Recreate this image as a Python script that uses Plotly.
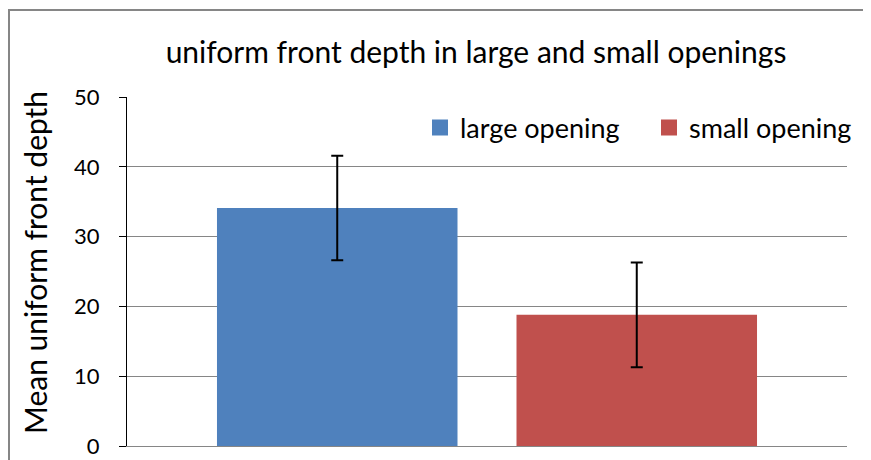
import plotly.graph_objects as go

series = ["large opening", "small opening"]
means = [34.1, 18.8]
errors = [7.5, 7.5]
colors = ["#4F81BD", "#C0504D"]
category = ["uniform front depth"]
y_ticks = [0, 10, 20, 30, 40, 50]

font = "Lato"
W, H = 871, 460
L, R, T, B = 119, 32, 89, 22
pw, ph = W - L - R, H - T - B

fig = go.Figure()
for name, m, e, c in zip(series, means, errors, colors):
    fig.add_trace(go.Bar(
        x=category, y=[m], name=name, marker_color=c, marker_line_width=0,
        showlegend=False,
        error_y=dict(type="data", array=[e], visible=True, color="black",
                     thickness=2, width=6),
    ))
# legend entries with bigger square swatches
for name, c in zip(series, colors):
    fig.add_trace(go.Scatter(
        x=category, y=[None], name=name, mode="markers",
        marker=dict(symbol="square", size=16, color=c),
    ))

fig.update_layout(
    width=W, height=H,
    margin=dict(l=L, r=R, t=T, b=B, autoexpand=False),
    paper_bgcolor="white", plot_bgcolor="white",
    barmode="group", bargap=0.168, bargroupgap=0.197,
    font=dict(family=font, color="black"),
    title=dict(text="uniform front depth in large and small openings",
               x=(468 - L) / pw, xref="paper", xanchor="center",
               y=1 - 44 / H, yanchor="middle",
               font=dict(size=30, family=font, color="black")),
    legend=dict(orientation="h", x=(412 - L) / pw, xanchor="left",
                y=1 + (T - 120) / ph, yanchor="middle",
                font=dict(size=27, family=font), bgcolor="rgba(0,0,0,0)",
                itemwidth=30, entrywidth=184, traceorder="normal",
                itemsizing="trace"),
    showlegend=True,
)
fig.update_xaxes(showticklabels=False, showgrid=False, showline=True,
                 linecolor="#868686", linewidth=1, ticks="", automargin=False)
fig.update_yaxes(range=[0, 50], tickvals=y_ticks, showgrid=True, gridcolor="#868686",
                 gridwidth=1, showline=True, linecolor="black", linewidth=1,
                 ticks="outside", ticklen=7, tickcolor="black", zeroline=False,
                 tickfont=dict(size=22, family=font), ticklabelstandoff=15,
                 automargin=False)

# y axis title, placed like the original (a bit above plot centre)
fig.add_annotation(text="Mean uniform front depth", textangle=-90, showarrow=False,
                   xref="paper", yref="paper", x=(27 - L) / pw, y=1 - (255 - T) / ph,
                   xanchor="center", yanchor="middle",
                   font=dict(size=30, family=font, color="black"))

# outer chart frame
fig.add_shape(type="rect", xref="paper", yref="paper",
              x0=(1 - L) / pw, x1=(W + 20 - L) / pw,
              y0=-(30) / ph, y1=(H - B - 2) / ph,
              line=dict(color="#868686", width=2), fillcolor="rgba(0,0,0,0)")

fig.write_html("out.html")
